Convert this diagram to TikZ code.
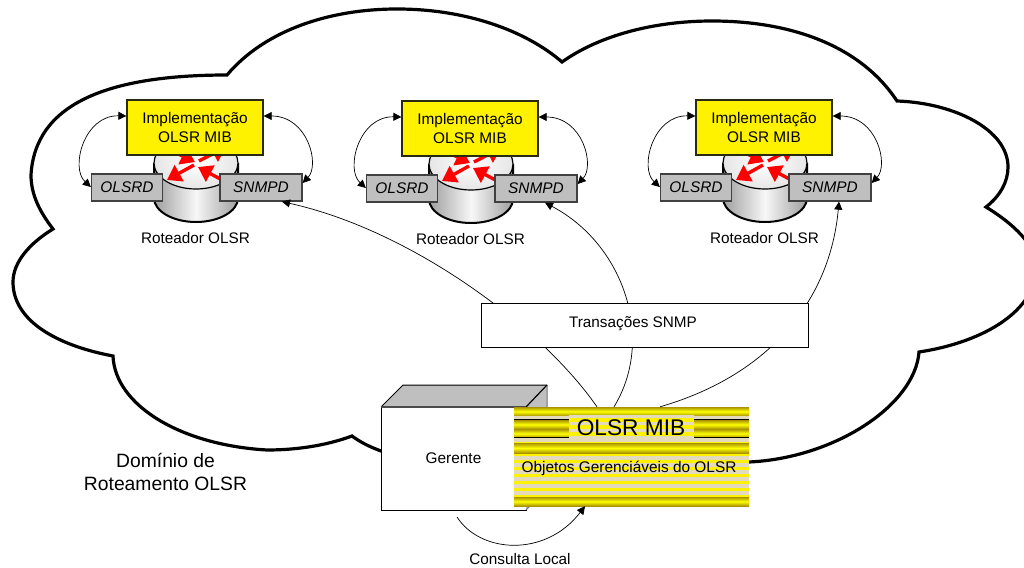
\documentclass[tikz,border=0pt]{standalone}
\usepackage{fontspec}
\setmainfont{Liberation Sans}
\usetikzlibrary{arrows.meta,calc}
\definecolor{gold}{HTML}{A89200}
\definecolor{beige}{HTML}{E2DABA}
\definecolor{edge}{HTML}{2A2A10}
\tikzset{
  cloudline/.style={line width=3.2pt,line join=miter,miter limit=10},
  implbox/.style={draw=edge,line width=1.3pt,fill=yellow,minimum width=136pt,minimum height=55pt,inner sep=0pt,align=center,font=\fontsize{15.4}{19}\selectfont},
  procbox/.style={draw=black!75,line width=1.3pt,fill=black!25,minimum height=27pt,inner sep=0pt,font=\fontsize{15.4}{19}\selectfont\itshape},
  plain/.style={inner sep=0pt,font=\fontsize{15.3}{19}\selectfont,align=center},
  thin conn/.style={line width=0.7pt},
  tipped/.style={thin conn,-{Triangle[length=8pt,width=8pt]}},
  both/.style={thin conn,{Triangle[length=8pt,width=8pt]}-{Triangle[length=8pt,width=8pt]}},
  redarrow/.style={red,line width=3.4pt,-{Triangle[length=14pt,width=18pt]}},
  goldband/.style={top color=gold,bottom color=gold,middle color=yellow,draw=none},
}
\newcommand{\routerunit}[3]{%
\begin{scope}[shift={(#2,#3)}]
  % cylinder
  \shade[left color=black!38,right color=black!38,middle color=white!97!black]
    (154,163) -- (154,198) arc[start angle=180,end angle=360,x radius=42,y radius=-24] -- (238,163) -- cycle;
  \draw[line width=2pt] (154,163) -- (154,198) arc[start angle=180,end angle=360,x radius=42,y radius=-24] -- (238,163);
  \shade[inner color=white,outer color=black!10] (196,163) ellipse[x radius=42,y radius=26];
  \draw[line width=1.2pt] (196,163) ellipse[x radius=42,y radius=26];
  \draw[redarrow] (194,165) -- (167,180);
  \draw[redarrow] (224,181) -- (198,167);
  \draw[redarrow] (170,150) -- (195,162);
  \draw[redarrow] (199,161) -- (226,147);
  \node[implbox] (impl#1) at (195,127.5) {Implementação\\OLSR MIB};
  \node[procbox,minimum width=71pt] (olsrd#1) at (127,187.5) {OLSRD};
  \node[procbox,minimum width=82pt] (snmpd#1) at (261,187.5) {SNMPD};
  \node[plain] (rot#1) at (195.5,238) {Roteador OLSR};
  \draw[both] ([yshift=11.5pt]impl#1.west) .. controls (84,115) and (70,168) .. ([yshift=0.5pt]olsrd#1.west);
  \draw[both] ([yshift=11.5pt]impl#1.east) .. controls (308,116) and (320,165) .. ([yshift=4.5pt]snmpd#1.east);
\end{scope}}
\begin{document}
\begin{tikzpicture}[x=1pt,y=-1pt]
\useasboundingbox (0,0) rectangle (1024,567);
\fill[white] (0,0) rectangle (1024,567);
\begin{scope}
\clip (0,0) rectangle (1024,567);
\draw[cloudline] (227,75) .. controls (265,30) and (330,9) .. (397,9) .. controls (465,9) and (525,30) .. (562,62)
  .. controls (600,35) and (655,21) .. (712,21) .. controls (790,21) and (860,45) .. (897,101)
  .. controls (955,103) and (1008,130) .. (1008,167) .. controls (1008,182) and (1000,196) .. (986,207)
  .. controls (1015,225) and (1036,245) .. (1036,268) .. controls (1036,310) and (985,342) .. (919,352)
  .. controls (915,405) and (835,458) .. (749,462) .. controls (600,480) and (410,480) .. (352,436)
  .. controls (325,446) and (295,450) .. (267,450) .. controls (180,445) and (115,405) .. (113,356)
  .. controls (55,345) and (13,320) .. (13,282) .. controls (13,262) and (30,243) .. (53,229)
  .. controls (40,212) and (31,195) .. (31,175) .. controls (35,105) and (105,75) .. (227,75) -- cycle;
\end{scope}

\routerunit{1}{0}{0}
\routerunit{2}{275}{1}
\routerunit{3}{569}{0}

% Manager box
\node[draw,line width=1pt,fill=white,minimum width=145pt,minimum height=103pt,inner sep=0pt,font=\fontsize{15.4}{19}\selectfont] (ger) at (453.5,458.5) {Gerente};
\fill[black!25] (381,407) -- (403,385) -- (547,385) -- (547,488) -- (526,510) -- (526,407) -- cycle;
\draw[line width=1pt] (381,407) -- (403,385) -- (547,385);
\draw[line width=1pt,black!55] (547,385) -- (547,488) -- (526,510);
\draw[line width=1.2pt] (526,407) -- (547,385);
\draw[line width=1.4pt,black!70] (381,407) -- (526,407);

% MIB box
\node[minimum width=235pt,minimum height=99pt,inner sep=0pt,fill=yellow] (mib) at (631.5,456.5) {};
\shade[goldband] (514,407) rectangle (749,416);
\fill[beige] (514,416) rectangle (749,419);
\shade[goldband] (514,420) rectangle (749,429);
\shade[goldband] (514,429) rectangle (749,438);
\fill[beige] (514,438) rectangle (749,442);
\shade[goldband] (514,443) rectangle (749,453);
\foreach \yy in {456,463,...,491}{\fill[beige] (514,\yy) rectangle (749,\yy+3.5);}
\shade[goldband] (514,497) rectangle (749,506);
\fill[yellow] (569,415) rectangle (694,438);
\foreach \yy in {415,422,429,436}{\fill[beige] (569,\yy) rectangle (694,\yy+3);}
\draw[line width=1pt] (514,419.5) -- (569,419.5) (514,437.5) -- (569,437.5) (694,419.5) -- (749,419.5) (694,437.5) -- (749,437.5);
\node[inner sep=0pt,font=\fontsize{22.7}{26}\selectfont] (mibt) at (631,428) {OLSR MIB};
\node[inner sep=0pt,font=\fontsize{15.4}{19}\selectfont] (mibo) at (629,468.5) {Objetos Gerenciáveis do OLSR};

% connectors (behind the transactions box)
\draw[tipped] ([xshift=-34.5pt]mib.north) .. controls (540,325) and (410,230) .. ([xshift=21pt]snmpd1.south);
\draw[tipped] ([xshift=-17.5pt]mib.north) .. controls (655,340) and (625,245) .. ([xshift=9pt]snmpd2.south);
\draw[tipped] ([xshift=28.5pt]mib.north) .. controls (770,375) and (830,300) .. ([xshift=9pt]snmpd3.south);
\node[draw,line width=1pt,fill=white,minimum width=327pt,minimum height=44pt,inner sep=0pt] (trans) at (644.5,325) {};
\node[plain] (transl) at (633,324) {Transações SNMP};

% local query
\coordinate (cs) at (457,517);
\draw[tipped] (cs) .. controls (480,553) and (545,558) .. ([xshift=-46.5pt]mib.south);
\node[plain] (cons) at (520,559) {Consulta Local};
\node[inner sep=0pt,align=center,font=\fontsize{19.3}{23}\selectfont] (dom) at (165.5,471.5) {Domínio de\\Roteamento OLSR};
\end{tikzpicture}
\end{document}
